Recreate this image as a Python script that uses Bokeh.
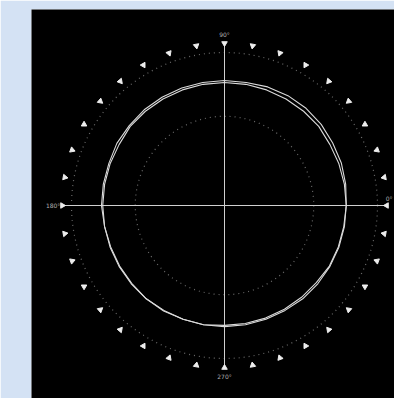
import numpy as np
from bokeh.plotting import figure
from bokeh.models import Range1d
from bokeh.core.properties import value
from bokeh.embed import file_html
from bokeh.resources import INLINE

# Radiation pattern, gain in dB every 10 degrees (0 = east, counter-clockwise)
angles_deg = list(range(0, 360, 10))
pattern_a_db = [-4.9, -4.7, -4.5, -4.4, -4.2, -4.1, -4.1, -4.2, -4.4, -4.4,
                -4.4, -4.4, -4.4, -4.4, -4.5, -4.5, -4.7, -4.7, -4.7, -4.9,
                -4.9, -4.9, -4.9, -4.9, -5.0, -5.0, -5.0, -5.0, -5.0, -5.0,
                -5.0, -4.9, -4.9, -4.9, -4.9, -4.9]
pattern_b_db = [-4.9, -4.9, -4.9, -4.9, -4.7, -4.7, -4.7, -4.7, -4.7, -4.7,
                -4.7, -4.7, -4.7, -4.7, -4.7, -4.9, -4.9, -4.9, -4.9, -4.9,
                -5.0, -5.0, -5.0, -4.9, -4.9, -5.0, -5.0, -5.2, -5.2, -5.2,
                -5.2, -5.2, -5.2, -5.0, -5.0, -5.0]

# Polar grid
ring_db = [-10, 0]
floor_db = -24
marker_angles_deg = list(range(0, 360, 10))
axis_labels = ["0°", "90°", "180°", "270°"]
axis_label_angles = [0, 90, 180, 270]


def to_radius(db):
    return (np.asarray(db, dtype=float) - floor_db) / (0 - floor_db)


def to_xy(theta_deg, r):
    t = np.radians(np.asarray(theta_deg, dtype=float))
    return r * np.cos(t), r * np.sin(t)


PX = 153.0  # pixels per unit radius
X_RIGHT = 170 / PX
p = figure(width=394, height=398, output_backend="svg", toolbar_location=None,
           x_range=Range1d(-193 / PX, X_RIGHT), y_range=Range1d(-193 / PX, 196 / PX),
           min_border_left=31, min_border_top=9, min_border_right=0, min_border_bottom=0)
p.background_fill_color = "black"
p.border_fill_color = "#d4e2f4"
p.outline_line_color = None
p.axis.visible = False
p.grid.visible = False

# dotted range rings
p.circle(x=[0] * len(ring_db), y=[0] * len(ring_db), radius=to_radius(ring_db),
         fill_color=None, line_color="#6a6a6a", line_width=1.2, line_dash="1 4")

# cross-hair axes
r_mark = 1.06
p.segment(x0=[-r_mark, 0], y0=[0, -r_mark], x1=[r_mark, 0], y1=[0, r_mark],
          line_color="#d0d0d0", line_width=1)

# direction markers pointing toward the centre
mx, my = to_xy(marker_angles_deg, r_mark)
p.scatter(x=mx, y=my, marker="triangle", size=5.5,
          angle=np.radians(np.array(marker_angles_deg) + 90.0),
          fill_color="#eeeeee", line_color="#eeeeee")

# angle labels; the east label sits against the right edge, just above the axis
lx, ly = to_xy(axis_label_angles, 1.12)
lx = np.minimum(lx, X_RIGHT - 2 / PX)
ly = np.where(np.array(axis_label_angles) == 0, 7 / PX, ly)
align = ["right" if a == 0 else "center" for a in axis_label_angles]
p.text(x=lx, y=ly, text=axis_labels, text_font=value("DejaVu Sans"),
       text_font_size="6px", text_color="#b0b0b0",
       text_align=align, text_baseline="middle")

# pattern traces
for series in (pattern_a_db, pattern_b_db):
    th = angles_deg + [angles_deg[0]]
    rr = to_radius(series + [series[0]])
    x, y = to_xy(th, rr)
    p.line(x, y, line_color="#dadada", line_width=1.1)

open("out.html", "w").write(file_html(p, INLINE))
